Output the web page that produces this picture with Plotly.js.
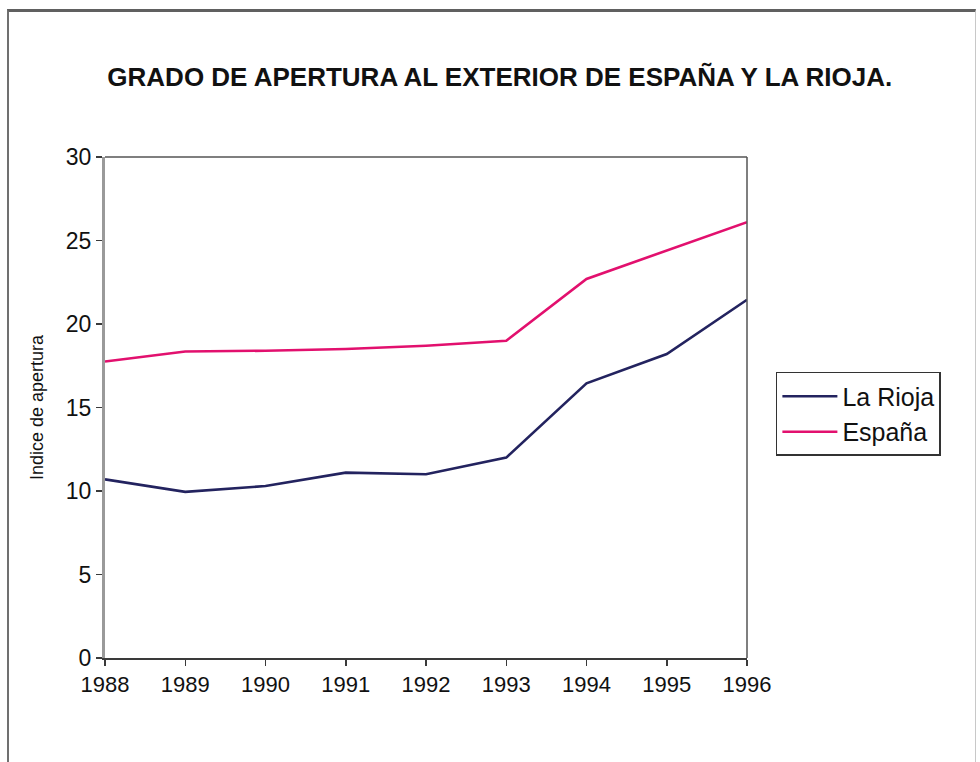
<!DOCTYPE html>
<html>
<head>
<meta charset="utf-8">
<script src="https://cdn.plot.ly/plotly-3.0.1.min.js"></script>
<style>
  html, body { margin: 0; padding: 0; background: #ffffff; overflow: hidden; }
  #wrap { position: relative; width: 980px; height: 762px; }
  #chart { position: absolute; left: 0; top: 0; width: 980px; height: 762px; }
  #frame { position: absolute; left: 7px; top: 9px; width: 969px; height: 770px;
           border-left: 2px solid #707070; border-top: 3px solid #606060; border-right: 1px solid #c8c8c8;
           box-sizing: border-box; pointer-events: none; }
</style>
</head>
<body>
<div id="wrap">
  <div id="chart"></div>
  <div id="frame"></div>
</div>
<script>
const years = [1988, 1989, 1990, 1991, 1992, 1993, 1994, 1995, 1996];
const laRioja = [10.7, 9.95, 10.3, 11.1, 11.0, 12.0, 16.45, 18.2, 21.45];
const espana = [17.75, 18.35, 18.4, 18.5, 18.7, 19.0, 22.7, 24.4, 26.1];
const yTicks = [0, 5, 10, 15, 20, 25, 30];
const seriesNames = ["La Rioja", "España"];
const chartTitle = "GRADO DE APERTURA AL EXTERIOR DE ESPAÑA Y LA RIOJA.";
const yTitle = "Indice de apertura";

const font = "Liberation Sans, Arial, sans-serif";

const traces = [
  { x: years, y: laRioja, name: seriesNames[0], type: "scatter", mode: "lines",
    line: { color: "#23235f", width: 2.6 } },
  { x: years, y: espana, name: seriesNames[1], type: "scatter", mode: "lines",
    line: { color: "#e2106e", width: 2.6 } }
];

const layout = {
  width: 980, height: 762,
  paper_bgcolor: "#ffffff", plot_bgcolor: "#ffffff",
  margin: { l: 105, r: 233, t: 157, b: 104 },
  font: { family: font, color: "#111111" },
  title: { text: "<b>" + chartTitle + "</b>", font: { family: font, size: 26, color: "#111111" },
           x: 0.51, xref: "container", xanchor: "center", y: 0.899, yref: "container", yanchor: "middle" },
  xaxis: {
    range: [years[0], years[years.length - 1]],
    tickvals: years, ticktext: years.map(String),
    showgrid: false, zeroline: false,
    showline: true, linecolor: "#3a3a3a", linewidth: 2,
    ticks: "outside", ticklen: 6, tickwidth: 1.5, tickcolor: "#3a3a3a",
    tickfont: { family: font, size: 22, color: "#111111" },
    fixedrange: true
  },
  yaxis: {
    range: [0, 30], tickvals: yTicks,
    showgrid: false, zeroline: false,
    showline: true, linecolor: "#9a9a9a", linewidth: 3,
    ticks: "outside", ticklen: 6, tickwidth: 1.5, tickcolor: "#3a3a3a",
    tickfont: { family: font, size: 23, color: "#111111" },
    title: { text: yTitle, font: { family: font, size: 18, color: "#111111" }, standoff: 18 },
    fixedrange: true
  },
  shapes: [
    { type: "line", xref: "paper", yref: "paper", x0: 0, x1: 1, y0: 1, y1: 1,
      line: { color: "#555555", width: 1.5 } },
    { type: "line", xref: "paper", yref: "paper", x0: 1, x1: 1, y0: 0, y1: 1,
      line: { color: "#555555", width: 1.5 } }
  ],
  showlegend: true,
  legend: {
    x: 1.045, xanchor: "left", y: 0.571, yanchor: "top",
    bgcolor: "#ffffff", bordercolor: "#333333", borderwidth: 1.5,
    font: { family: font, size: 25, color: "#111111" },
    itemwidth: 55,
    tracegroupgap: 0
  }
};

Plotly.newPlot("chart", traces, layout, { displayModeBar: false, staticPlot: true });
</script>
</body>
</html>
